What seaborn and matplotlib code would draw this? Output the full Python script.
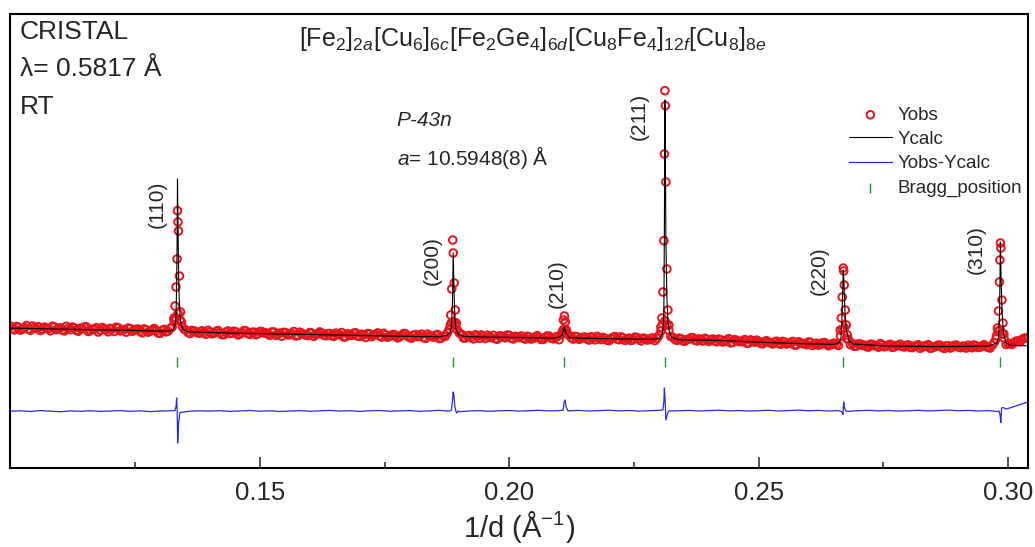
import numpy as np
import matplotlib
matplotlib.use('Agg')
import matplotlib.pyplot as plt
from matplotlib.ticker import FixedLocator
import seaborn as sns

# ---- data (1/d in 1/A, intensity in arbitrary units) ----
# observed profile, two interleaved regular grids with step 0.0008
# grid a starts at 0.1000, grid b at 0.1004
obs_step = 0.0008
obs_start_a = 0.1000
yobs_a = [
    418, 381, 407, 392, 425, 377, 404, 413, 386, 399, 372, 410, 395, 380, 417, 383,
    401, 368, 393, 412, 374, 389, 360, 405, 381, 396, 366, 402, 377, 358, 394, 381,
    389, 352, 381, 369, 395, 350, 377, 362, 395, 470, 545, 420, 380, 345, 372, 350,
    372, 338, 361, 349, 375, 333, 358, 345, 368, 330, 352, 371, 336, 359, 342, 364,
    351, 327, 361, 340, 318, 352, 333, 365, 324, 346, 330, 355, 316, 341, 349, 322,
    345, 316, 339, 355, 312, 331, 348, 320, 337, 306, 341, 327, 351, 309, 333, 318,
    336, 301, 327, 342, 305, 329, 314, 338, 296, 323, 309, 335, 300, 318, 390, 460,
    380, 338, 300, 325, 291, 318, 331, 295, 313, 327, 288, 319, 302, 326, 290, 312,
    321, 289, 310, 296, 324, 285, 306, 318, 292, 313, 335, 380, 328, 289, 312, 297,
    309, 279, 301, 317, 284, 296, 273, 307, 290, 312, 276, 298, 285, 304, 271, 295,
    283, 301, 296, 370, 470, 375, 305, 276, 294, 268, 289, 303, 271, 285, 297, 265,
    290, 262, 281, 268, 293, 257, 276, 263, 284, 250, 271, 279, 246, 265, 258, 240,
    268, 237, 259, 245, 266, 231, 252, 240, 260, 226, 248, 236, 255, 222, 243, 234,
    320, 400, 285, 246, 219, 240, 228, 209, 236, 221, 245, 212, 230, 207, 226, 238,
    210, 231, 204, 225, 197, 219, 233, 201, 216, 228, 195, 222, 209, 230, 203, 217,
    228, 203, 222, 210, 233, 207, 226, 290, 380, 300, 245, 236, 268, 262, 298, 305,
]
obs_start_b = 0.1004
yobs_b = [
    392, 415, 379, 403, 388, 420, 396, 375, 409, 391, 418, 384, 402, 371, 397, 410,
    376, 398, 410, 365, 388, 403, 379, 393, 362, 391, 408, 371, 385, 399, 367, 388,
    367, 391, 358, 383, 372, 347, 386, 369, 410, 500, 480, 388, 355, 376, 361, 349,
    355, 377, 341, 366, 352, 334, 370, 348, 361, 339, 374, 344, 357, 333, 365, 351,
    338, 360, 326, 349, 357, 331, 344, 320, 358, 337, 325, 350, 335, 361, 328, 343,
    324, 349, 333, 310, 343, 326, 352, 316, 330, 345, 313, 336, 322, 347, 308, 329,
    327, 311, 345, 319, 298, 334, 321, 307, 339, 315, 328, 294, 320, 352, 450, 430,
    350, 300, 321, 309, 333, 296, 316, 328, 304, 292, 322, 310, 330, 297, 317, 304,
    298, 317, 290, 311, 303, 286, 321, 299, 309, 283, 380, 340, 303, 316, 287, 308,
    292, 313, 281, 300, 306, 278, 295, 315, 283, 302, 291, 275, 309, 287, 299, 280,
    296, 274, 325, 440, 430, 315, 287, 299, 272, 284, 302, 278, 291, 270, 288, 279,
    270, 289, 260, 278, 251, 284, 266, 272, 248, 281, 258, 264, 242, 273, 250, 261,
    247, 266, 240, 253, 229, 262, 244, 233, 257, 239, 228, 251, 241, 232, 249, 225,
    385, 295, 233, 217, 241, 226, 214, 238, 223, 208, 232, 219, 237, 211, 224, 216,
    226, 206, 219, 232, 210, 224, 198, 215, 229, 207, 221, 200, 226, 212, 218, 199,
    212, 230, 205, 224, 215, 200, 255, 370, 340, 235, 244, 253, 270, 285, 300,
]

# observed points on the peaks
yobs_peak_x = [
    0.13278, 0.13298, 0.13318, 0.13338, 0.13348, 0.13358, 0.13368, 0.13388, 0.13408, 0.13428,
    0.18817, 0.18827, 0.18847, 0.18867, 0.18877, 0.18897, 0.18917, 0.18937,
    0.21065, 0.21085, 0.21105, 0.21125, 0.21145,
    0.2304, 0.2306, 0.2308, 0.2310, 0.2311, 0.2312, 0.2313, 0.2314, 0.2316, 0.2318, 0.2320,
    0.26636, 0.26656, 0.26676, 0.26696, 0.26706, 0.26716, 0.26736, 0.26756, 0.26776,
    0.29767, 0.29787, 0.29807, 0.29827, 0.29837, 0.29847, 0.29857, 0.29877, 0.29897, 0.29917,
]
yobs_peak_y = [
    500, 620, 810, 1090, 1573, 1460, 1370, 920, 560, 460,
    430, 530, 790, 1280, 1150, 850, 580, 450,
    360, 480, 520, 460, 380,
    410, 500, 760, 1273, 2140, 2773, 2623, 1860, 990, 580, 430,
    380, 500, 710, 1000, 970, 830, 580, 430, 330,
    320, 400, 570, 860, 1080, 1250, 1200, 680, 450, 340,
]

# calculated profile
ycalc_x = [
    0.1000, 0.1050, 0.1100, 0.1150, 0.1200, 0.1250, 0.1300, 0.1315,
    0.1325, 0.1329, 0.1331, 0.1332, 0.1333, 0.1334, 0.13348, 0.1336, 0.1337, 0.1338,
    0.1340, 0.1342, 0.1346, 0.1356,
    0.1400, 0.1450, 0.1500, 0.1550, 0.1600, 0.1650, 0.1700, 0.1750, 0.1800, 0.1860,
    0.1876, 0.1882, 0.1884, 0.1886, 0.18877, 0.1889, 0.1891, 0.1893, 0.1898, 0.1910,
    0.1950, 0.2000, 0.2050, 0.2090,
    0.2102, 0.2106, 0.21105, 0.2114, 0.2120,
    0.2150, 0.2200, 0.2250, 0.2290,
    0.2302, 0.2307, 0.2309, 0.2310, 0.2311, 0.2312, 0.2313, 0.2314, 0.2316, 0.2318,
    0.2321, 0.2326, 0.2340,
    0.2400, 0.2450, 0.2500, 0.2550, 0.2600, 0.2650,
    0.2662, 0.2665, 0.2667, 0.26696, 0.2671, 0.2673, 0.2676, 0.2681, 0.2690,
    0.2750, 0.2800, 0.2850, 0.2900, 0.2960,
    0.2978, 0.2981, 0.2983, 0.29847, 0.2986, 0.2988, 0.2991, 0.2996,
    0.3005, 0.3020, 0.3040,
]
ycalc_y = [
    399, 394, 389, 384, 380, 375, 369, 368,
    378, 410, 470, 560, 800, 1250, 1890, 1350, 950, 720,
    520, 430, 385, 362,
    355, 348, 344, 339, 335, 330, 325, 320, 316, 312,
    330, 360, 420, 640, 1150, 800, 500, 390, 335, 315,
    310, 306, 302, 299,
    310, 330, 410, 345, 305,
    297, 293, 289, 287,
    298, 340, 430, 600, 1400, 2680, 2100, 1300, 700, 480,
    360, 305, 283,
    278, 270, 258, 249, 242, 236,
    255, 300, 500, 980, 850, 560, 380, 270, 240,
    222, 217, 214, 215, 219,
    250, 310, 550, 1260, 900, 560, 340, 250,
    228, 224, 222,
]

# difference curve (already shifted down), grid 0.100 .. 0.304 step 0.002
diff_start = 0.100
diff_step = 0.002
ydiff_grid = [
    -432, -428, -435, -426, -431, -437, -429, -433, -427, -434,
    -430, -426, -433, -429, -436, -431, -428, -445, -432, -428,
    -431, -427, -434, -429, -425, -432, -428, -435, -430, -426,
    -433, -429, -424, -431, -427, -434, -428, -425, -432, -429,
    -426, -433, -428, -424, -431, -438, -430, -427, -433, -428,
    -425, -431, -427, -423, -429, -426, -428, -424, -430, -426,
    -422, -429, -425, -431, -427, -423, -432, -428, -424, -430,
    -426, -422, -429, -425, -431, -427, -423, -430, -426, -421,
    -428, -424, -430, -426, -433, -427, -423, -429, -425, -431,
    -427, -423, -429, -425, -421, -428, -424, -430, -426, -435,
    -405, -372, -340,
]
ydiff_peak_x = [
    0.1330, 0.1332, 0.1333, 0.13342, 0.13352, 0.1337, 0.1339,
    0.1884, 0.1886, 0.18875, 0.1889, 0.1891, 0.1894, 0.1898,
    0.2108, 0.2110, 0.2112, 0.2114, 0.2118,
    0.2308, 0.2310, 0.2311, 0.23125, 0.2314, 0.2317, 0.2320,
    0.2667, 0.2669, 0.26705, 0.2672, 0.2675,
    0.2982, 0.2984, 0.29855, 0.2987, 0.2990, 0.2996,
]
ydiff_peak_y = [
    -425, -380, -300, -420, -750, -560, -470,
    -420, -330, -240, -270, -390, -450, -430,
    -420, -340, -320, -390, -430,
    -420, -330, -200, -330, -520, -460, -430,
    -440, -465, -340, -400, -430,
    -430, -470, -545, -400, -395, -410,
]

# Bragg reflections
hkl = ['(110)', '(200)', '(210)', '(211)', '(220)', '(310)']
bragg_x = [0.13348, 0.18877, 0.21105, 0.23120, 0.26696, 0.29847]
bragg_y = [60, 60, 60, 60, 60, 60]
hkl_label_x = [0.12936, 0.18446, 0.20971, 0.22614, 0.2622, 0.29366]
hkl_label_y = [1640, 1070, 840, 2520, 970, 1180]

# ---- assemble ----
xa = np.round(obs_start_a + obs_step * np.arange(len(yobs_a)), 4)
xb = np.round(obs_start_b + obs_step * np.arange(len(yobs_b)), 4)
obs_x = np.concatenate([xa, xb, yobs_peak_x])
obs_y = np.concatenate([yobs_a, yobs_b, yobs_peak_y])

diff_x = np.concatenate([np.round(diff_start + diff_step * np.arange(len(ydiff_grid)), 3), ydiff_peak_x])
diff_y = np.concatenate([ydiff_grid, ydiff_peak_y])
order = np.argsort(diff_x)
diff_x, diff_y = diff_x[order], diff_y[order]

# ---- style ----
sns.set_style('white')
plt.rcParams['font.family'] = ['Liberation Sans', 'DejaVu Sans']
plt.rcParams['mathtext.fontset'] = 'custom'
plt.rcParams['mathtext.rm'] = 'Liberation Sans'
plt.rcParams['mathtext.it'] = 'Liberation Sans:italic'
plt.rcParams['mathtext.default'] = 'regular'

red = '#e8141c'
blue = '#2a2ad8'
green = '#1e9a28'

fig, ax = plt.subplots(figsize=(10.35, 5.47), dpi=100)
fig.subplots_adjust(left=10 / 1035, right=1028 / 1035, top=1 - 14 / 547, bottom=1 - 468 / 547)

sns.scatterplot(x=obs_x, y=obs_y, ax=ax, marker='o', s=30, facecolors='none',
                edgecolor=red, linewidth=1.4, label='Yobs', zorder=2)
sns.lineplot(x=ycalc_x, y=ycalc_y, ax=ax, color='black', lw=0.8, sort=False,
             estimator=None, label='Ycalc', zorder=3)
sns.lineplot(x=diff_x, y=diff_y, ax=ax, color=blue, lw=0.9, sort=False,
             estimator=None, label='Yobs-Ycalc', zorder=3)
sns.scatterplot(x=bragg_x, y=bragg_y, ax=ax, marker='|', s=60, color=green,
                linewidth=1.0, label='Bragg_position', zorder=3)

ax.set_xlim(0.0999, 0.3040)
ax.set_ylim(-1000, 3540)
ax.set_yticks([])
ax.set_ylabel('')
ax.set_xticks([0.15, 0.20, 0.25, 0.30])
ax.set_xticklabels(['0.15', '0.20', '0.25', '0.30'])
ax.xaxis.set_minor_locator(FixedLocator([0.125, 0.175, 0.225, 0.275]))
ax.tick_params(axis='x', which='major', direction='in', length=8, width=1.1,
               labelsize=18.5, pad=9, bottom=True, top=False)
ax.tick_params(axis='x', which='minor', direction='in', length=4, width=1.1,
               bottom=True, top=False)
for sp in ax.spines.values():
    sp.set_linewidth(1.5)
    sp.set_color('black')
ax.set_xlabel('1/d (Å$^{-1}$)', fontsize=21, labelpad=3)

# peak labels
for lab, lx, ly in zip(hkl, hkl_label_x, hkl_label_y):
    ax.text(lx, ly, lab, rotation=90, ha='center', va='center', fontsize=15)

# annotations
ax.text(0.0098, 0.9604, 'CRISTAL', transform=ax.transAxes, fontsize=19, va='center')
ax.text(0.0098, 0.8789, 'λ= 0.5817 Å', transform=ax.transAxes, fontsize=19, va='center')
ax.text(0.0098, 0.7952, 'RT', transform=ax.transAxes, fontsize=19, va='center')
ax.text(0.514, 0.9295,
        r'$[Fe_2]_{2\mathit{a}}[Cu_6]_{6\mathit{c}}[Fe_2Ge_4]_{6\mathit{d}}'
        r'[Cu_8Fe_4]_{12\mathit{f}}[Cu_8]_{8\mathit{e}}$',
        transform=ax.transAxes, fontsize=18, ha='center', va='baseline')
ax.text(0.380, 0.7665, 'P-43n', transform=ax.transAxes, fontsize=15,
        style='italic', va='center')
ax.text(0.380, 0.685, r'$\mathit{a}$= 10.5948(8) Å', transform=ax.transAxes,
        fontsize=15, va='center')

# legend
handles, labels = ax.get_legend_handles_labels()
wanted = ['Yobs', 'Ycalc', 'Yobs-Ycalc', 'Bragg_position']
hd = dict(zip(labels, handles))
ax.legend([hd[k] for k in wanted], wanted, loc='upper left',
          bbox_to_anchor=(0.824, 0.796), frameon=False, fontsize=13.5,
          borderpad=0, borderaxespad=0, handlelength=2.3, handletextpad=0.3,
          labelspacing=0.38)

fig.savefig('out.png', dpi=100)
plt.close(fig)
